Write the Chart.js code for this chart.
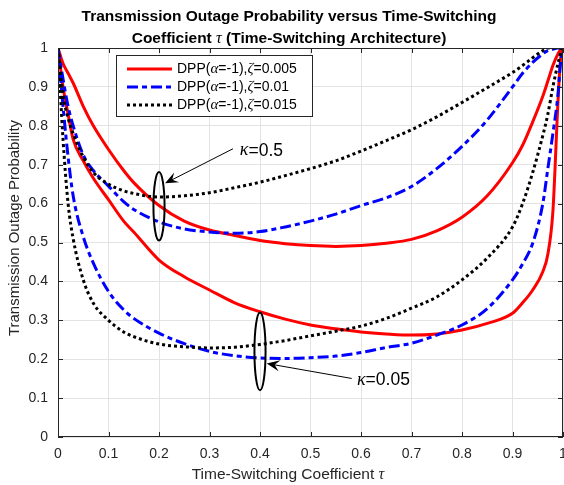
<!DOCTYPE html>
<html>
<head>
<meta charset="utf-8">
<script src="https://cdn.jsdelivr.net/npm/chart.js@4/dist/chart.umd.min.js"></script>
<style>
html,body{margin:0;padding:0;background:#fff;}
canvas{display:block;}
</style>
</head>
<body>
<canvas id="c" width="564" height="485"></canvas>
<script>
// ---------- DATA ----------
const tau = [0, 0.01, 0.02, 0.03, 0.05, 0.07, 0.1, 0.13, 0.15, 0.2, 0.25, 0.3, 0.35, 0.4, 0.45, 0.5, 0.55, 0.6, 0.65, 0.7, 0.75, 0.8, 0.85, 0.9, 0.92, 0.94, 0.96, 0.97, 0.98, 0.99, 0.995, 1];

// kappa = 0.5
const redK05   = [1, 0.96, 0.935, 0.91, 0.85, 0.8, 0.739, 0.685, 0.654, 0.595, 0.555, 0.532, 0.518, 0.505, 0.497, 0.492, 0.49, 0.492, 0.498, 0.508, 0.53, 0.565, 0.62, 0.705, 0.75, 0.81, 0.876, 0.915, 0.955, 0.985, 0.995, 1];
const blueK05  = [1, 0.92, 0.85, 0.8, 0.725, 0.685, 0.645, 0.605, 0.585, 0.553, 0.535, 0.527, 0.524, 0.528, 0.54, 0.555, 0.573, 0.595, 0.615, 0.644, 0.69, 0.747, 0.815, 0.9, 0.935, 0.963, 0.985, 0.993, 0.997, 1, 1, 1];
const blackK05 = [1, 0.88, 0.82, 0.78, 0.72, 0.68, 0.65, 0.633, 0.626, 0.617, 0.62, 0.628, 0.641, 0.655, 0.672, 0.69, 0.71, 0.735, 0.762, 0.79, 0.823, 0.86, 0.898, 0.937, 0.955, 0.975, 0.993, 1, 1, 1, 1, 1];

// kappa = 0.05
const redK005   = [1, 0.9, 0.83, 0.765, 0.71, 0.665, 0.61, 0.555, 0.527, 0.455, 0.412, 0.378, 0.345, 0.322, 0.303, 0.288, 0.278, 0.27, 0.265, 0.262, 0.265, 0.275, 0.292, 0.318, 0.345, 0.378, 0.425, 0.47, 0.58, 0.86, 0.97, 1];
const blueK005  = [1, 0.85, 0.72, 0.62, 0.515, 0.447, 0.374, 0.327, 0.305, 0.267, 0.24, 0.22, 0.209, 0.203, 0.202, 0.204, 0.208, 0.217, 0.23, 0.241, 0.262, 0.288, 0.33, 0.404, 0.445, 0.498, 0.6, 0.69, 0.78, 0.88, 0.96, 1];
const blackK005 = [1, 0.765, 0.6, 0.51, 0.404, 0.344, 0.3, 0.27, 0.258, 0.239, 0.232, 0.229, 0.231, 0.238, 0.248, 0.26, 0.272, 0.285, 0.305, 0.331, 0.36, 0.404, 0.46, 0.54, 0.6, 0.68, 0.775, 0.83, 0.9, 0.96, 0.985, 1];

const xTickLabels = ['0','0.1','0.2','0.3','0.4','0.5','0.6','0.7','0.8','0.9','1'];
const yTickLabels = ['0','0.1','0.2','0.3','0.4','0.5','0.6','0.7','0.8','0.9','1'];
const zetaLabels = ['0.005','0.01','0.015'];

// ---------- helpers ----------
const SANS = '"Liberation Sans", Arial, sans-serif';
const SERIF = '"Liberation Serif", "Times New Roman", serif';
const pts = (ys) => tau.map((t, i) => ({x: t, y: ys[i]}));

function drawSegs(ctx, segs, x, y, align) {
  let total = 0;
  segs.forEach(s => { ctx.font = s.f; total += ctx.measureText(s.t).width; });
  let cx = align === 'center' ? x - total / 2 : x;
  ctx.textAlign = 'left';
  ctx.textBaseline = 'middle';
  segs.forEach(s => { ctx.font = s.f; ctx.fillText(s.t, cx, y); cx += ctx.measureText(s.t).width; });
}
function legendSegs(z) {
  return [
    {t:'DPP(', f:'14px ' + SANS},
    {t:'α', f:'italic 15px ' + SERIF},
    {t:'=-1),', f:'14px ' + SANS},
    {t:'ζ', f:'italic 15px ' + SERIF},
    {t:'=' + z, f:'14px ' + SANS}
  ];
}

const RED = '#ff0000', BLUE = '#0000ff', BLACK = '#000000';
const dashBlue = [11, 4, 5, 4];
const dotBlack = [3, 3];

const datasets = [
  {label:'DPP(α=-1),ζ=0.005', data: pts(redK05),  borderColor: RED,  borderWidth: 3, order: 3},
  {label:'', data: pts(redK005), borderColor: RED,  borderWidth: 3, order: 3},
  {label:'DPP(α=-1),ζ=0.01', data: pts(blueK05), borderColor: BLUE, borderWidth: 3, borderDash: dashBlue, order: 2},
  {label:'', data: pts(blueK005), borderColor: BLUE, borderWidth: 3, borderDash: dashBlue, order: 2},
  {label:'DPP(α=-1),ζ=0.015', data: pts(blackK05), borderColor: BLACK, borderWidth: 3, borderDash: dotBlack, order: 1},
  {label:'', data: pts(blackK005), borderColor: BLACK, borderWidth: 3, borderDash: dotBlack, order: 1}
].map(d => Object.assign({pointRadius: 0, fill: false, cubicInterpolationMode: 'monotone', borderCapStyle: 'butt'}, d));

const decor = {
  id: 'decor',
  afterDraw(chart) {
    const ctx = chart.ctx, a = chart.chartArea, xs = chart.scales.x, ys = chart.scales.y;
    ctx.save();
    // box
    ctx.strokeStyle = '#262626'; ctx.lineWidth = 1; ctx.setLineDash([]);
    ctx.strokeRect(a.left + 0.5, a.top + 0.5, a.right - a.left - 1, a.bottom - a.top - 1);
    // inward ticks
    ctx.beginPath();
    for (let i = 0; i <= 10; i++) {
      const px = Math.round(xs.getPixelForValue(i / 10)) + 0.5;
      ctx.moveTo(px, a.bottom); ctx.lineTo(px, a.bottom - 5);
      ctx.moveTo(px, a.top); ctx.lineTo(px, a.top + 5);
      const py = Math.round(ys.getPixelForValue(i / 10)) + 0.5;
      ctx.moveTo(a.left, py); ctx.lineTo(a.left + 5, py);
      ctx.moveTo(a.right, py); ctx.lineTo(a.right - 5, py);
    }
    ctx.stroke();

    // ellipses
    ctx.strokeStyle = '#000'; ctx.lineWidth = 2;
    const ell = (cx, cy, rxv, ryv) => {
      const px = xs.getPixelForValue(cx), py = ys.getPixelForValue(cy);
      const rx = Math.abs(xs.getPixelForValue(cx + rxv) - px), ry = Math.abs(ys.getPixelForValue(cy + ryv) - py);
      ctx.beginPath(); ctx.ellipse(px, py, rx, ry, 0, 0, Math.PI * 2); ctx.stroke();
    };
    ell(0.2, 0.593, 0.011, 0.088);
    ell(0.4, 0.22, 0.011, 0.1);

    // arrows
    const arrow = (x0, y0, x1, y1) => {
      const p0 = [xs.getPixelForValue(x0), ys.getPixelForValue(y0)];
      const p1 = [xs.getPixelForValue(x1), ys.getPixelForValue(y1)];
      const ang = Math.atan2(p1[1] - p0[1], p1[0] - p0[0]);
      ctx.lineWidth = 1; ctx.strokeStyle = '#000'; ctx.fillStyle = '#000';
      ctx.beginPath(); ctx.moveTo(p0[0], p0[1]);
      ctx.lineTo(p1[0] - 6 * Math.cos(ang), p1[1] - 6 * Math.sin(ang)); ctx.stroke();
      const L = 13, W = 5.5, B = 8;
      const c = Math.cos(ang), s = Math.sin(ang);
      ctx.beginPath();
      ctx.moveTo(p1[0], p1[1]);
      ctx.lineTo(p1[0] - L * c + W * s, p1[1] - L * s - W * c);
      ctx.lineTo(p1[0] - B * c, p1[1] - B * s);
      ctx.lineTo(p1[0] - L * c - W * s, p1[1] - L * s + W * c);
      ctx.closePath(); ctx.fill();
    };
    arrow(0.3465, 0.741, 0.212, 0.652);
    arrow(0.5816, 0.1505, 0.4133, 0.189);

    ctx.fillStyle = '#000';
    drawSegs(ctx, [{t:'κ', f:'italic 18px ' + SERIF}, {t:'=0.5', f:'17.5px ' + SANS}], xs.getPixelForValue(0.36), ys.getPixelForValue(0.736), 'left');
    drawSegs(ctx, [{t:'κ', f:'italic 18px ' + SERIF}, {t:'=0.05', f:'17.5px ' + SANS}], xs.getPixelForValue(0.592), ys.getPixelForValue(0.146), 'left');

    // legend
    const lx = 116, ly = 55, lw = 196, lh = 61;
    ctx.fillStyle = '#fff'; ctx.fillRect(lx, ly, lw, lh);
    ctx.strokeStyle = '#262626'; ctx.lineWidth = 1; ctx.strokeRect(lx + 0.5, ly + 0.5, lw, lh);
    const legendDs = [datasets[0], datasets[2], datasets[4]];
    legendDs.forEach((d, i) => {
      const y = 69 + i * 18;
      ctx.strokeStyle = d.borderColor; ctx.lineWidth = 3; ctx.lineCap = 'butt';
      ctx.setLineDash(d.borderDash || []);
      ctx.beginPath(); ctx.moveTo(127, y); ctx.lineTo(172, y); ctx.stroke();
      ctx.setLineDash([]);
      ctx.fillStyle = '#000';
      drawSegs(ctx, legendSegs(zetaLabels[i]), 177, y, 'left');
    });

    // title
    ctx.fillStyle = '#000';
    ctx.textAlign = 'center'; ctx.textBaseline = 'middle';
    ctx.font = 'bold 15.5px ' + SANS;
    ctx.fillText('Transmission Outage Probability versus Time-Switching', 289, 17);
    drawSegs(ctx, [{t:'Coefficient ', f:'bold 15.5px ' + SANS}, {t:'τ', f:'italic 16px ' + SERIF}, {t:' (Time-Switching Architecture)', f:'bold 15.5px ' + SANS}], 289, 39, 'center');

    // axis titles
    ctx.fillStyle = '#262626';
    drawSegs(ctx, [{t:'Time-Switching Coefficient ', f:'15.5px ' + SANS}, {t:'τ', f:'italic 16px ' + SERIF}], 288, 475, 'center');
    ctx.translate(15, 228); ctx.rotate(-Math.PI / 2);
    ctx.font = '15px ' + SANS; ctx.textAlign = 'center'; ctx.textBaseline = 'middle';
    ctx.fillText('Transmission Outage Probability', 0, 0);
    ctx.restore();
  }
};

new Chart(document.getElementById('c'), {
  type: 'line',
  data: {datasets},
  options: {
    responsive: false,
    devicePixelRatio: 1,
    animation: false,
    layout: {autoPadding: false, padding: {top: 48, right: 1, left: 0, bottom: 0}},
    plugins: {legend: {display: false}, tooltip: {enabled: false}, title: {display: false}},
    scales: {
      x: {
        type: 'linear', min: 0, max: 1,
        afterFit: s => { s.height = 48; s.paddingLeft = 0; s.paddingRight = 0; },
        grid: {color: '#e3e3e3', drawTicks: false},
        border: {display: false},
        ticks: {stepSize: 0.1, padding: 9, color: '#262626', font: {family: SANS, size: 14},
                callback: (v, i) => xTickLabels[i], maxRotation: 0, autoSkip: false}
      },
      y: {
        type: 'linear', min: 0, max: 1,
        afterFit: s => { s.width = 58; s.paddingTop = 0; s.paddingBottom = 0; },
        grid: {color: '#e3e3e3', drawTicks: false},
        border: {display: false},
        ticks: {stepSize: 0.1, padding: 10, color: '#262626', font: {family: SANS, size: 14},
                callback: (v, i) => yTickLabels[i], autoSkip: false}
      }
    }
  },
  plugins: [decor]
});
</script>
</body>
</html>
